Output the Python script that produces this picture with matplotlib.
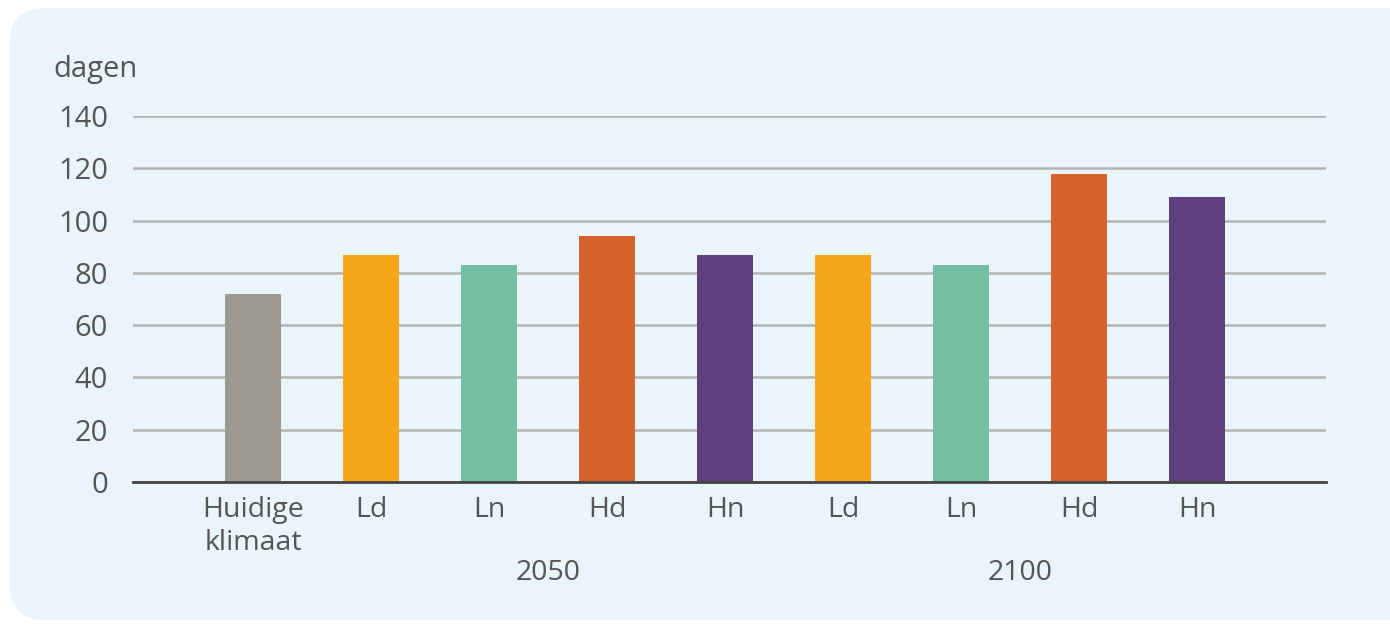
import matplotlib.pyplot as plt
from matplotlib.patches import FancyBboxPatch

labels = ["Huidige\nklimaat", "Ld", "Ln", "Hd", "Hn", "Ld", "Ln", "Hd", "Hn"]
values = [72, 87, 83, 94, 87, 87, 83, 118, 109]
colors = ["#9c9892", "#f5a61a", "#74bfa1", "#d5622a", "#5f3f80",
          "#f5a61a", "#74bfa1", "#d5622a", "#5f3f80"]
groups = ["2050", "2100"]
group_pos = [2.5, 6.5]
yticks = [0, 20, 40, 60, 80, 100, 120, 140]

plt.rcParams['font.family'] = ['Open Sans', 'DejaVu Sans']
bg = "#e9f4fb"
txt = "#555555"

fig = plt.figure(figsize=(13.9, 6.24), dpi=100)
fig.patch.set_facecolor("white")
# rounded light blue panel behind the chart
panel = FancyBboxPatch((10 / 1390, 4 / 624), 1 - 10 / 1390 + 0.02, 1 - 12 / 624,
                       boxstyle="round,pad=0,rounding_size=0.025",
                       transform=fig.transFigure, facecolor=bg, edgecolor="none",
                       mutation_aspect=1390 / 624, zorder=-10)
fig.patches.append(panel)

ax = fig.add_axes([133 / 1390, 1 - 482 / 624, (1326 - 133) / 1390, (482 - 116) / 624])
ax.set_facecolor("none")
ax.set_zorder(5)

x = list(range(len(values)))
ax.bar(x, values, width=0.475, color=colors, zorder=3)

ax.set_xlim(-1.017, 9.09)
ax.set_ylim(0, 140)
ax.set_yticks(yticks)
ax.yaxis.grid(True, color="#b3b3b3", linewidth=1.8, zorder=0)
ax.set_axisbelow(True)
for s in ["top", "right", "left"]:
    ax.spines[s].set_visible(False)
ax.spines["bottom"].set_color("#444444")
ax.spines["bottom"].set_linewidth(2)
ax.spines["bottom"].set_zorder(4)

ax.set_xticks(x)
ax.set_xticklabels(labels, fontsize=20.5, color=txt, linespacing=1.25)
ax.tick_params(axis="x", length=0, pad=10)
ax.tick_params(axis="y", length=0, pad=18, labelsize=21, labelcolor=txt)

for g, p in zip(groups, group_pos):
    ax.text(p, -35, g, ha="center", va="center", fontsize=20.5, color=txt,
            transform=ax.transData)

fig.text(53 / 1390, 1 - 70 / 624, "dagen", ha="left", va="center",
         fontsize=21, color=txt)

fig.savefig("out.png", dpi=100, facecolor=fig.get_facecolor())
